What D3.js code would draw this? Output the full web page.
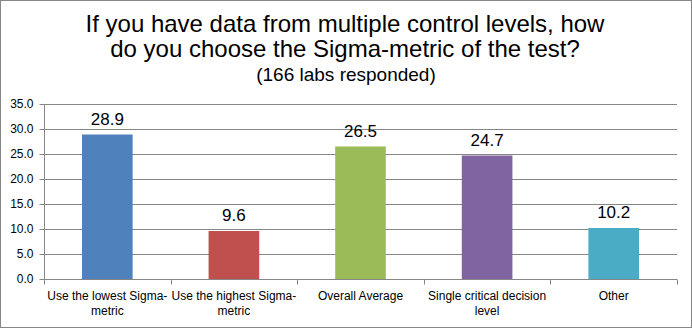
<!DOCTYPE html>
<html>
<head>
<meta charset="utf-8">
<script src="https://cdn.jsdelivr.net/npm/d3@7"></script>
<style>
  body { margin: 0; background: #fff; }
  svg { display: block; }
</style>
</head>
<body>
<div id="chart"></div>
<script>
'use strict';

var categories = [
  ['Use the lowest Sigma-', 'metric'],
  ['Use the highest Sigma-', 'metric'],
  ['Overall Average'],
  ['Single critical decision', 'level'],
  ['Other']
];
var values = [28.9, 9.6, 26.5, 24.7, 10.2];
var colors = ['#4F81BD', '#C0504D', '#9BBB59', '#8064A2', '#4BACC6'];
var yTicks = [0, 5, 10, 15, 20, 25, 30, 35];
var titleLines = [
  'If you have data from multiple control levels, how',
  'do you choose the Sigma-metric of the test?'
];
var subtitle = '(166 labs responded)';

var width = 692, height = 328;
var margin = {top: 104, right: 15, bottom: 49, left: 44};

var svg = d3.select('#chart').append('svg')
  .attr('width', width)
  .attr('height', height);

// outer border
svg.append('rect')
  .attr('x', 0.5).attr('y', 0.5)
  .attr('width', width - 1).attr('height', height - 1)
  .attr('fill', '#fff')
  .attr('stroke', '#878787');

// title
var title = svg.append('g')
  .attr('font-family', 'Liberation Sans, Arial, sans-serif')
  .attr('text-anchor', 'middle')
  .attr('fill', '#000');

title.selectAll('text.t')
  .data(titleLines)
  .enter().append('text')
    .attr('class', 't')
    .attr('x', 345)
    .attr('y', function(d, i){ return 32 + i * 25; })
    .attr('font-size', '24px')
    .text(function(d){ return d; });

title.append('text')
  .attr('x', 346)
  .attr('y', 81)
  .attr('font-size', '19px')
  .text(subtitle);

var innerW = width - margin.left - margin.right,
    innerH = height - margin.top - margin.bottom;

var g = svg.append('g')
  .attr('transform', 'translate(' + margin.left + ',' + margin.top + ')');

var xb = d3.scaleBand()
  .domain(d3.range(values.length))
  .range([0, innerW]);

var y = d3.scaleLinear()
  .domain([0, 35])
  .range([innerH, 0]);

// gridlines
g.selectAll('line.grid')
  .data(yTicks.filter(function(d){ return d > 0; }))
  .enter().append('line')
    .attr('class', 'grid')
    .attr('x1', 0).attr('x2', innerW)
    .attr('y1', function(d){ return Math.round(y(d)) + 0.5; })
    .attr('y2', function(d){ return Math.round(y(d)) + 0.5; })
    .attr('stroke', '#868686')
    .attr('stroke-width', 1);

// bars (excel gap width 150%)
var barW = xb.bandwidth() / 2.5;
g.selectAll('rect.bar')
  .data(values)
  .enter().append('rect')
    .attr('class', 'bar')
    .attr('x', function(d, i){ return xb(i) + (xb.bandwidth() - barW) / 2; })
    .attr('width', barW)
    .attr('y', function(d){ return y(d); })
    .attr('height', function(d){ return innerH - y(d); })
    .attr('fill', function(d, i){ return colors[i]; });

// value labels
g.selectAll('text.val')
  .data(values)
  .enter().append('text')
    .attr('class', 'val')
    .attr('x', function(d, i){ return xb(i) + xb.bandwidth() / 2; })
    .attr('y', function(d){ return y(d) - 10; })
    .attr('text-anchor', 'middle')
    .attr('font-family', 'Liberation Sans, Arial, sans-serif')
    .attr('font-size', '17px')
    .attr('fill', '#000')
    .text(function(d){ return d.toFixed(1); });

// y axis
var yAxis = g.append('g')
  .attr('transform', 'translate(0.5,0)')
  .call(d3.axisLeft(y).tickValues(yTicks).tickSize(5).tickFormat(d3.format('.1f')));
yAxis.select('.domain').attr('stroke', '#868686').attr('d', 'M0,0V' + innerH);
yAxis.selectAll('.tick line').attr('stroke', '#868686');
yAxis.selectAll('.tick text')
  .attr('x', -11)
  .attr('font-family', 'Liberation Sans, Arial, sans-serif')
  .attr('font-size', '12px')
  .attr('fill', '#000');

// x axis
var xAxis = g.append('g')
  .attr('transform', 'translate(0,' + (innerH + 0.5) + ')');
xAxis.append('line')
  .attr('x1', 0).attr('x2', innerW)
  .attr('stroke', '#868686');
xAxis.selectAll('line.xt')
  .data(d3.range(values.length + 1))
  .enter().append('line')
    .attr('class', 'xt')
    .attr('x1', function(d){ return Math.round(d * xb.step()) + 0.5; })
    .attr('x2', function(d){ return Math.round(d * xb.step()) + 0.5; })
    .attr('y1', 0).attr('y2', 5)
    .attr('stroke', '#868686');

var labels = xAxis.selectAll('text.cat')
  .data(categories)
  .enter().append('text')
    .attr('class', 'cat')
    .attr('text-anchor', 'middle')
    .attr('font-family', 'Liberation Sans, Arial, sans-serif')
    .attr('font-size', '12px')
    .attr('fill', '#000')
    .attr('transform', function(d, i){
      return 'translate(' + (xb(i) + xb.bandwidth() / 2) + ',20)';
    });

labels.selectAll('tspan')
  .data(function(d){ return d; })
  .enter().append('tspan')
    .attr('x', 0)
    .attr('dy', function(d, i){ return i === 0 ? 0 : 15; })
    .text(function(d){ return d; });
</script>
</body>
</html>
